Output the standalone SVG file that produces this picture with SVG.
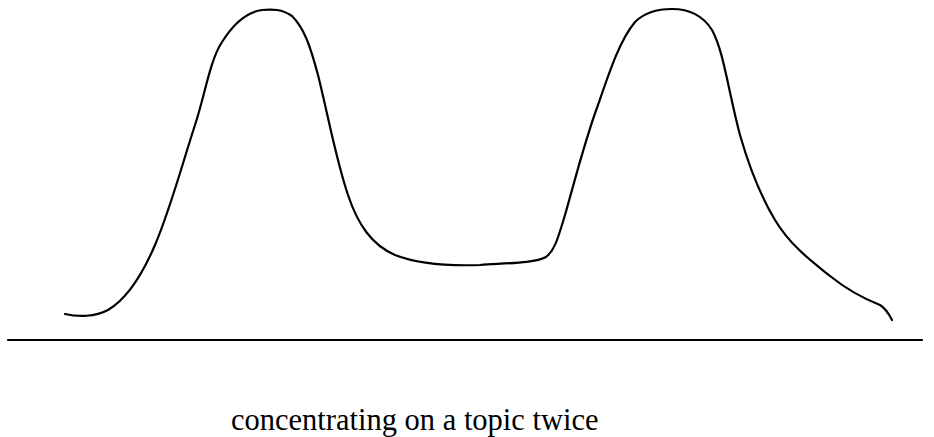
<svg xmlns="http://www.w3.org/2000/svg" width="934" height="437" viewBox="0 0 934 437">
<style>
.ln{fill:none;stroke:#000;stroke-width:2.2;stroke-linecap:round;stroke-linejoin:round}
.t{font-family:"Liberation Serif",serif;font-size:30.5px;fill:#000}
</style>
<rect width="934" height="437" fill="#fff"/>
<g id="curve">
<path class="ln" d="M65,314 C78,317 95,317 108,310 C125,300 140,280 155,245 C170,210 182,165 195,125 C205,95 210,60 222,42 C232,26 246,12 262,10 C272,9 282,9 292,16 C304,28 310,45 318,75 C328,115 336,160 348,195 C358,225 372,245 395,255 C420,265 450,266 480,265 C510,263 535,263 546,257 C555,250 558,238 565,215 C575,180 585,140 598,105 C610,70 620,40 635,22 C645,12 658,9 672,9 C688,9 702,14 712,30 C724,52 728,90 740,135 C750,170 760,195 775,220 C790,245 810,260 830,276 C845,288 862,298 880,305 C885,308 889,314 892,320"/>
</g>
<g id="baseline">
<line class="ln" x1="8" y1="340" x2="922" y2="340" stroke-width="2"/>
</g>
<g id="label">
<text class="t" x="231" y="430">concentrating on a topic twice</text>
</g>
</svg>
